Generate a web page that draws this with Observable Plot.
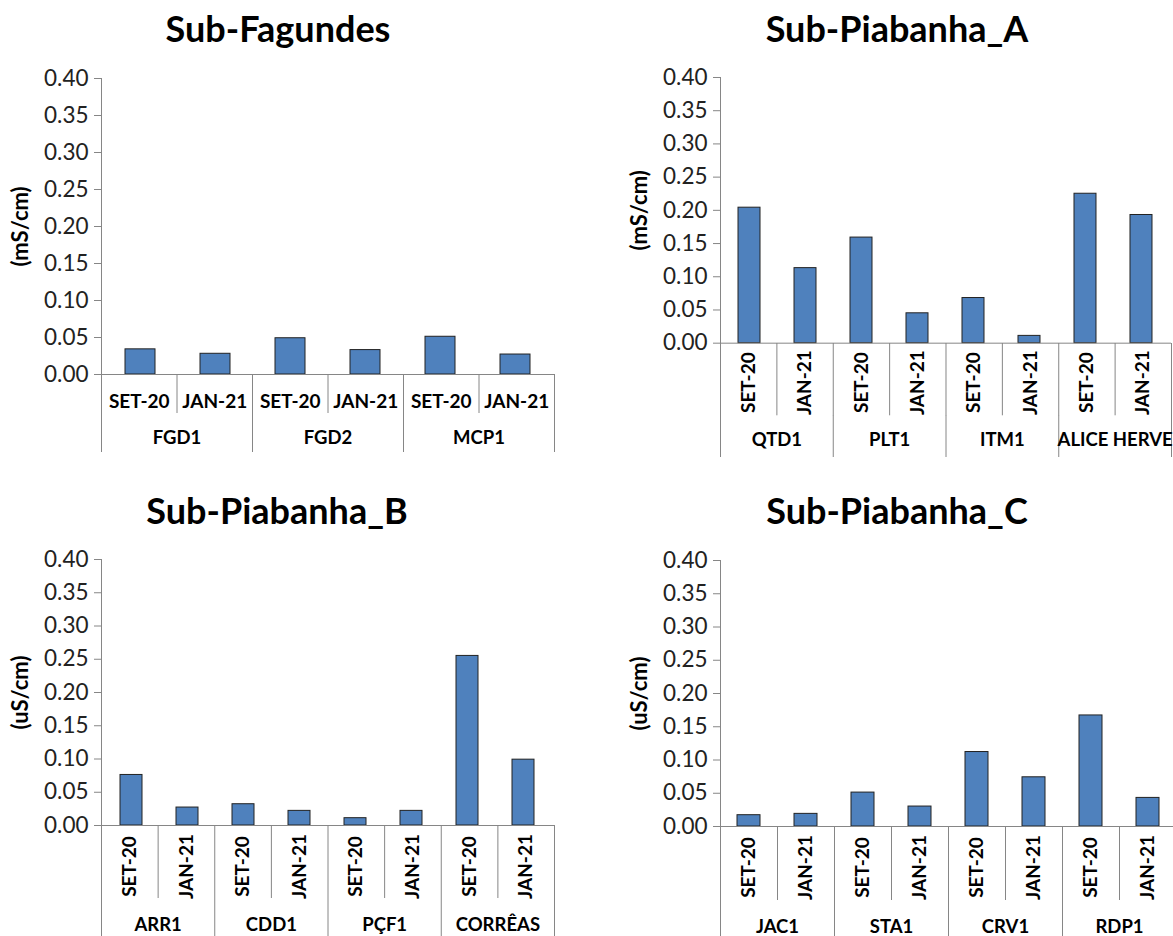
<!DOCTYPE html>
<html>
<head>
<meta charset="utf-8">
<script src="https://cdn.jsdelivr.net/npm/d3@7"></script>
<script src="https://cdn.jsdelivr.net/npm/@observablehq/plot@0.6"></script>
<style>
  html, body { margin: 0; padding: 0; background: #fff; }
  body { width: 1173px; height: 936px; position: relative; overflow: hidden; font-family: Lato, "Open Sans", sans-serif; }
  .title { position: absolute; transform: translate(-50%, -50%); font-weight: bold; font-size: 36px; color: #000; white-space: nowrap; line-height: 1; }
  svg { overflow: visible; display: block; }
  g[aria-label="y-axis label"] { font-size: 22px; font-weight: bold; fill: #000; }
</style>
</head>
<body>
<script>
// Sampling campaigns
const months = ["SET-20", "JAN-21"];

// Electrical conductivity per sub-basin and station
const fagundesStations = ["FGD1", "FGD2", "MCP1"];
const fagundesSet = [0.034, 0.049, 0.051];
const fagundesJan = [0.028, 0.033, 0.027];

const piabanhaAStations = ["QTD1", "PLT1", "ITM1", "ALICE HERVE"];
const piabanhaASet = [0.204, 0.159, 0.068, 0.225];
const piabanhaAJan = [0.113, 0.045, 0.011, 0.193];

const piabanhaBStations = ["ARR1", "CDD1", "PÇF1", "CORRÊAS"];
const piabanhaBSet = [0.076, 0.032, 0.011, 0.255];
const piabanhaBJan = [0.027, 0.022, 0.022, 0.099];

const piabanhaCStations = ["JAC1", "STA1", "CRV1", "RDP1"];
const piabanhaCSet = [0.017, 0.051, 0.112, 0.167];
const piabanhaCJan = [0.019, 0.030, 0.074, 0.043];

const yTicks = [0, 0.05, 0.10, 0.15, 0.20, 0.25, 0.30, 0.35, 0.40];

const barBlue = "#4F81BD";
const axisGray = "#868686";
const font = "Lato, 'Open Sans', sans-serif";

function rowsOf(stations, setVals, janVals) {
  return stations.flatMap((s, i) => [
    {station: s, month: months[0], value: setVals[i]},
    {station: s, month: months[1], value: janVals[i]}
  ]).map((d, i) => ({...d, key: d.station + " " + d.month, index: i}));
}

// Panel frames on the page (pixel layout)
const panels = [
  {title: "Sub-Fagundes", tx: 278, ty: 28, unit: "(mS/cm)", rows: rowsOf(fagundesStations, fagundesSet, fagundesJan),
   axisX: 101, right: 554, top: 78, zero: 374, rowB: 39, rowC: 39, rotate: false, monthDy: 8, groupDy: 5.5},
  {title: "Sub-Piabanha_A", tx: 897, ty: 28, unit: "(mS/cm)", rows: rowsOf(piabanhaAStations, piabanhaASet, piabanhaAJan),
   axisX: 720, right: 1171, top: 77, zero: 342.7, rowB: 72.3, rowC: 42, rotate: true, monthDy: 3, groupDy: 4},
  {title: "Sub-Piabanha_B", tx: 277, ty: 510, unit: "(uS/cm)", rows: rowsOf(piabanhaBStations, piabanhaBSet, piabanhaBJan),
   axisX: 101, right: 554, top: 559, zero: 825, rowB: 73, rowC: 42, rotate: true, monthDy: 4.5, groupDy: 6},
  {title: "Sub-Piabanha_C", tx: 897, ty: 510, unit: "(uS/cm)", rows: rowsOf(piabanhaCStations, piabanhaCSet, piabanhaCJan),
   axisX: 720, right: 1176, top: 560, zero: 826, rowB: 74, rowC: 42, rotate: true, monthDy: 4, groupDy: 6}
];

function place(node, left, top) {
  node.style.position = "absolute";
  node.style.left = left + "px";
  node.style.top = top + "px";
  document.body.appendChild(node);
}

const ML = 100, MR = 12, MT = 20;

for (const p of panels) {
  const n = p.rows.length;
  const inner = p.right - p.axisX;
  const W = ML + inner + MR;
  const left = p.axisX - ML;
  const baseStyle = {background: "transparent", fontFamily: font, overflow: "visible", color: "#222"};

  // Title
  const t = document.createElement("div");
  t.className = "title";
  t.textContent = p.title;
  t.style.left = p.tx + "px";
  t.style.top = p.ty + "px";
  document.body.appendChild(t);

  // Bars with the value axis
  const chart = Plot.plot({
    width: W,
    height: p.zero - (p.top - MT),
    marginLeft: ML, marginRight: MR, marginTop: MT, marginBottom: 0,
    style: {...baseStyle, fontSize: "22px"},
    x: {type: "band", domain: p.rows.map(d => d.key), paddingInner: 0.6, paddingOuter: 0.3, axis: null},
    y: {domain: [0, 0.4], axis: null},
    marks: [
      Plot.axisY({ticks: yTicks, tickFormat: d3.format(".2f"), tickSize: 7, tickPadding: 6,
                  fontSize: 22.5, stroke: axisGray, fill: "#222",
                  label: p.unit, labelAnchor: "center", labelOffset: 89, labelArrow: "none"}),
      Plot.frame({anchor: "left", stroke: axisGray}),
      Plot.barY(p.rows, {x: "key", y: "value", fill: barBlue, stroke: "#222", strokeWidth: 1}),
      Plot.ruleY([0], {stroke: axisGray})
    ]
  });
  place(chart, left, p.top - MT);

  // Campaign labels row
  const monthRow = Plot.plot({
    width: W, height: p.rowB,
    marginLeft: ML, marginRight: MR, marginTop: 0, marginBottom: 0,
    style: baseStyle,
    x: {domain: [0, n], axis: null},
    marks: [
      Plot.ruleX(d3.range(n + 1), {stroke: axisGray}),
      Plot.text(p.rows, {x: d => d.index + 0.5, text: "month", frameAnchor: "middle",
        rotate: p.rotate ? -90 : 0, dy: p.monthDy, fontWeight: "bold", fontSize: 19, fill: "#000"})
    ]
  });
  place(monthRow, left, p.zero);

  // Station labels row
  const stations = p.rows.filter(d => d.month === months[0]);
  const groupRow = Plot.plot({
    width: W, height: p.rowC,
    marginLeft: ML, marginRight: MR, marginTop: 0, marginBottom: 0,
    style: baseStyle,
    x: {domain: [0, n], axis: null},
    marks: [
      Plot.ruleX(d3.range(0, n + 1, 2), {stroke: axisGray}),
      Plot.text(stations, {x: d => d.index + 1, text: "station", frameAnchor: "middle",
        dy: p.groupDy, fontWeight: "bold", fontSize: 18.5, fill: "#000"})
    ]
  });
  place(groupRow, left, p.zero + p.rowB);
}
</script>
</body>
</html>
